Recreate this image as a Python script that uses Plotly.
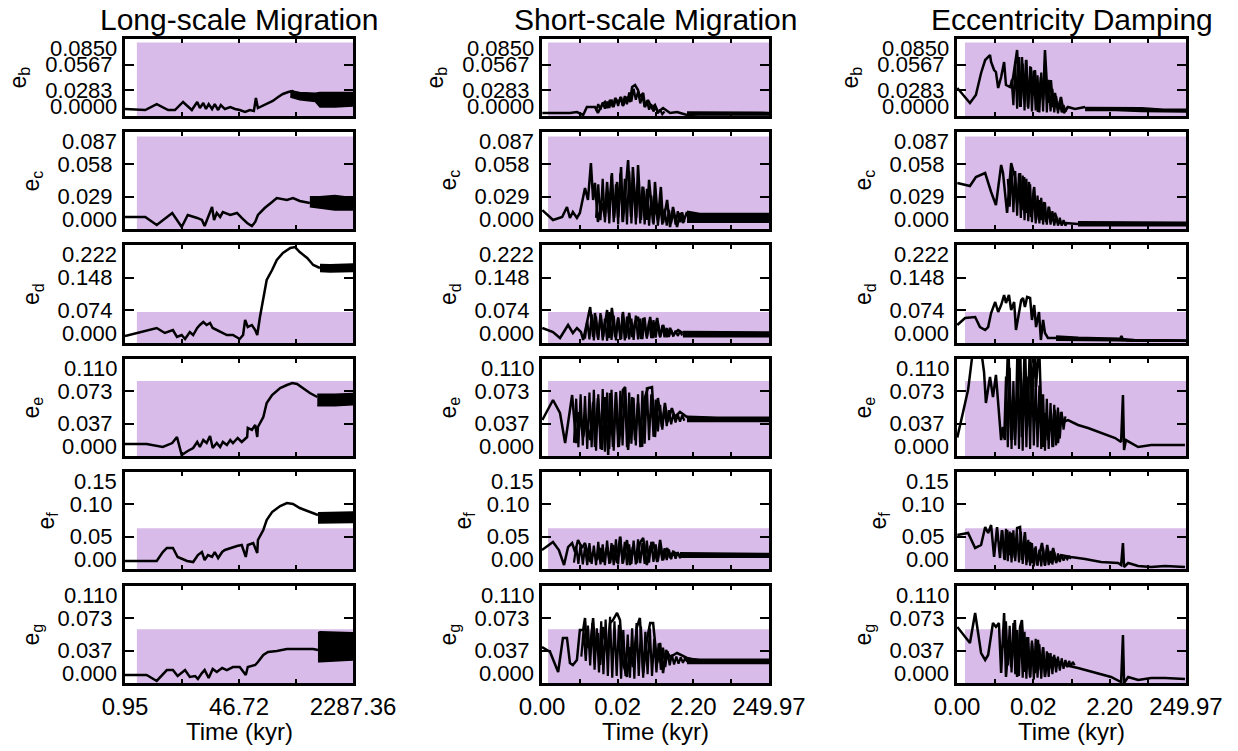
import numpy as np
import plotly.graph_objects as go

# ---------------------------------------------------------------- data
columns = ["Long-scale Migration", "Short-scale Migration", "Eccentricity Damping"]
planets = ["b", "c", "d", "e", "f", "g"]

# time axes: log10(kyr) range ends and tick labels
time_log_min = [-0.0203, -3.7686, -3.7686]
time_log_max = [3.3593, 2.3979, 2.3979]
time_ticktext_long = ["0.95", "46.72", "2287.36"]
time_ticktext_short = ["0.00", "0.02", "2.20", "249.97"]

# eccentricity axes
ecc_axis_max = [0.085, 0.087, 0.222, 0.110, 0.15, 0.110]
ecc_ticktext_b = ["0.0000", "0.0283", "0.0567", "0.0850"]
ecc_ticktext_c = ["0.000", "0.029", "0.058", "0.087"]
ecc_ticktext_d = ["0.000", "0.074", "0.148", "0.222"]
ecc_ticktext_e = ["0.000", "0.037", "0.073", "0.110"]
ecc_ticktext_f = ["0.00", "0.05", "0.10", "0.15"]
ecc_ticktext_g = ["0.000", "0.037", "0.073", "0.110"]

# observed upper limits (shaded) and log10(kyr) where shading starts
ecc_upper_limit = [0.081, 0.083, 0.070, 0.085, 0.063, 0.061]
limit_start_log = [0.156, -3.604, -3.552]

# ---- Long-scale migration (time as log10 kyr)
long_b_t = [-0.02, 0.28, 0.45, 0.62, 0.72, 0.84, 0.97, 1.05, 1.09, 1.14, 1.18, 1.22, 1.27, 1.31, 1.36, 1.40, 1.46,
            1.54, 1.61, 1.68, 1.76, 1.83, 1.89, 1.92, 1.95, 2.01, 2.10, 2.17, 2.25, 2.32, 2.40, 2.46, 2.51]
long_b_e = [0.0077, 0.0066, 0.0132, 0.0066, 0.0066, 0.0155, 0.0066, 0.0155, 0.0088, 0.0144, 0.0077, 0.0132, 0.0077,
            0.0132, 0.0066, 0.0121, 0.0077, 0.0099, 0.0077, 0.0066, 0.0044, 0.0066, 0.0055, 0.0199, 0.0088, 0.011,
            0.0144, 0.0166, 0.021, 0.0243, 0.0265, 0.0276, 0.0254]
long_b_band_t = [2.43, 2.57, 2.80, 2.87, 3.09, 3.36]
long_b_band_lo = [0.021, 0.018, 0.016, 0.010, 0.010, 0.011]
long_b_band_hi = [0.028, 0.026, 0.025, 0.026, 0.026, 0.026]

long_c_t = [-0.02, 0.28, 0.45, 0.68, 0.82, 0.91, 1.05, 1.12, 1.16, 1.21, 1.27, 1.30, 1.34, 1.39, 1.43, 1.54, 1.64,
            1.71, 1.79, 1.86, 1.91, 1.95, 2.05, 2.16, 2.23, 2.38, 2.47, 2.57, 2.72]
long_c_e = [0.0108, 0.0108, 0.0036, 0.0144, 0.0018, 0.0126, 0.0099, 0.0081, 0.0027, 0.0108, 0.0197, 0.0081, 0.0144,
            0.0108, 0.0152, 0.0126, 0.0144, 0.0099, 0.0054, 0.0027, 0.0063, 0.0126, 0.0188, 0.0242, 0.0278, 0.026,
            0.0278, 0.0251, 0.0233]
long_c_band_t = [2.72, 2.87, 3.09, 3.36]
long_c_band_lo = [0.020, 0.019, 0.017, 0.017]
long_c_band_hi = [0.029, 0.029, 0.030, 0.028]

long_d_t = [-0.02, 0.45, 0.57, 0.69, 0.75, 0.82, 0.87, 0.94, 0.99, 1.05, 1.09, 1.14, 1.19, 1.24, 1.28, 1.39, 1.49,
            1.58, 1.68, 1.73, 1.76, 1.80, 1.86, 1.91, 1.94, 1.98, 2.03, 2.08, 2.16, 2.23, 2.32, 2.43, 2.50, 2.57,
            2.68, 2.77, 2.87]
long_d_e = [0.0159, 0.034, 0.0227, 0.0294, 0.0136, 0.0181, 0.0091, 0.0249, 0.0181, 0.034, 0.0408, 0.0476, 0.0408,
            0.0453, 0.034, 0.0249, 0.0181, 0.0181, 0.0091, 0.0181, 0.0521, 0.0362, 0.0408, 0.0294, 0.0181, 0.0589,
            0.104, 0.1427, 0.1653, 0.188, 0.2039, 0.2152, 0.2174, 0.2061, 0.1925, 0.1767, 0.1699]
long_d_band_t = [2.87, 3.02, 3.36]
long_d_band_lo = [0.162, 0.161, 0.162]
long_d_band_hi = [0.178, 0.177, 0.179]

long_e_t = [-0.02, 0.30, 0.54, 0.68, 0.75, 0.82, 0.91, 0.99, 1.05, 1.09, 1.14, 1.19, 1.24, 1.28, 1.34, 1.39, 1.43,
            1.49, 1.54, 1.58, 1.65, 1.71, 1.79, 1.80, 1.86, 1.91, 1.94, 1.95, 2.03, 2.08, 2.16, 2.28, 2.38, 2.46,
            2.53, 2.62, 2.72, 2.83]
long_e_e = [0.0136, 0.0136, 0.0102, 0.0147, 0.0215, 0.0011, 0.0057, 0.0091, 0.0159, 0.0102, 0.0181, 0.0147, 0.0227,
            0.0091, 0.0147, 0.0102, 0.0159, 0.0125, 0.0181, 0.0147, 0.0204, 0.0159, 0.0215, 0.0318, 0.0295, 0.0352,
            0.0215, 0.0329, 0.0442, 0.0601, 0.0692, 0.0771, 0.0805, 0.0828, 0.0817, 0.0771, 0.0714, 0.0669]
long_e_band_t = [2.83, 3.09, 3.36]
long_e_band_lo = [0.057, 0.057, 0.058]
long_e_band_hi = [0.070, 0.070, 0.071]

long_f_t = [-0.02, 0.45, 0.54, 0.60, 0.69, 0.76, 0.90, 0.99, 1.06, 1.12, 1.16, 1.21, 1.27, 1.31, 1.36, 1.42, 1.46,
            1.54, 1.64, 1.71, 1.77, 1.80, 1.88, 1.94, 1.95, 2.03, 2.08, 2.16, 2.28, 2.38, 2.47, 2.57, 2.72, 2.84]
long_f_e = [0.0124, 0.0124, 0.0263, 0.0325, 0.0325, 0.0186, 0.0124, 0.0108, 0.0216, 0.0263, 0.0139, 0.0216, 0.0186,
            0.0263, 0.017, 0.0263, 0.0294, 0.0325, 0.0356, 0.0371, 0.0186, 0.0371, 0.0402, 0.0247, 0.0448, 0.0603,
            0.0758, 0.0881, 0.0974, 0.102, 0.1005, 0.0943, 0.0881, 0.0835]
long_f_band_t = [2.84, 3.09, 3.36]
long_f_band_lo = [0.071, 0.071, 0.072]
long_f_band_hi = [0.087, 0.087, 0.088]

long_g_t = [-0.02, 0.30, 0.45, 0.60, 0.69, 0.76, 0.87, 0.94, 1.02, 1.06, 1.12, 1.16, 1.22, 1.28, 1.34, 1.42, 1.49,
            1.58, 1.68, 1.77, 1.80, 1.91, 1.95, 2.03, 2.10, 2.23, 2.38, 2.57, 2.77, 2.84]
long_g_e = [0.0091, 0.0091, 0.0023, 0.0147, 0.0147, 0.0079, 0.0147, 0.0068, 0.0079, 0.0045, 0.0113, 0.0147, 0.0057,
            0.0159, 0.0125, 0.017, 0.0147, 0.0181, 0.0181, 0.0091, 0.0181, 0.0204, 0.0238, 0.0318, 0.0352, 0.0363,
            0.0386, 0.0386, 0.0386, 0.0374]
long_g_band_t = [2.84, 2.87, 3.36]
long_g_band_lo = [0.024, 0.024, 0.026]
long_g_band_hi = [0.057, 0.058, 0.057]

# ---- Short-scale migration
short_b_t = [-3.76, -3.01, -2.82, -2.65, -2.55, -2.33, -2.25, -2.14, -2.06, -2.00, -1.92, -1.84, -1.78, -1.70, -1.62,
             -1.57, -1.46, -1.38, -1.32, -1.24, -1.16, -1.11, -1.02, -0.97, -0.89, -0.78, -0.70, -0.62, -0.48, -0.29,
             -0.10, 0.17, 0.52, 1.07, 1.61, 2.40]
short_b_e = [0.0033, 0.0033, 0.0044, 0.0011, 0.0099, 0.0099, 0.0033, 0.0121, 0.0155, 0.0088, 0.0177, 0.0099, 0.0199,
             0.0144, 0.021, 0.011, 0.021, 0.0155, 0.032, 0.0342, 0.0287, 0.021, 0.0254, 0.0099, 0.0177, 0.0088,
             0.0121, 0.0044, 0.0088, 0.0033, 0.0044, 0.0011, 0.0022, 0.0022, 0.0022, 0.0022]
short_b_band_t = [0.17, 1.00, 2.40]
short_b_band_lo = [0.001, 0.001, 0.001]
short_b_band_hi = [0.0045, 0.004, 0.004]
short_b_fine_t = [-2.30, -2.24, -2.18, -2.12, -2.06, -2.00, -1.94, -1.88, -1.82, -1.76, -1.70, -1.64, -1.58, -1.52,
                  -1.46, -1.40, -1.34, -1.28, -1.22, -1.16, -1.10, -1.04, -0.98, -0.92, -0.86, -0.80, -0.74, -0.68,
                  -0.62, -0.56, -0.50, -0.44]
short_b_fine_e = [0.006, 0.013, 0.007, 0.015, 0.008, 0.016, 0.009, 0.018, 0.010, 0.019, 0.011, 0.021, 0.012, 0.022,
                  0.013, 0.026, 0.016, 0.030, 0.018, 0.027, 0.014, 0.022, 0.010, 0.017, 0.007, 0.013, 0.005, 0.010,
                  0.003, 0.007, 0.002, 0.005]

short_c_t = [-3.76, -3.47, -3.22, -3.09, -3.01, -2.93, -2.82, -2.74, -2.65, -2.60, -2.52, -2.44, -2.38, -2.33, -2.25,
             -2.14, -2.06, -2.00, -1.95, -1.87, -1.81, -1.73, -1.70, -1.62, -1.57, -1.49, -1.43, -1.35, -1.30, -1.21,
             -1.16, -1.08, -1.02, -0.92, -0.86, -0.75, -0.70, -0.62, -0.54, -0.48, -0.37, -0.29, -0.21, -0.10, -0.02,
             0.06, 0.17]
short_c_e = [0.017, 0.0081, 0.0108, 0.0197, 0.0099, 0.0152, 0.0099, 0.0144, 0.0287, 0.0368, 0.026, 0.0592, 0.026,
             0.0413, 0.0063, 0.0233, 0.0108, 0.0422, 0.0144, 0.0502, 0.0099, 0.0422, 0.0108, 0.0556, 0.0063, 0.0377,
             0.0619, 0.0108, 0.0556, 0.0099, 0.0574, 0.0081, 0.0377, 0.0081, 0.044, 0.0054, 0.0422, 0.0081, 0.0377,
             0.0054, 0.026, 0.0018, 0.0197, 0.0018, 0.0144, 0.0054, 0.0152]
short_c_band_t = [0.17, 0.52, 1.34, 2.40]
short_c_band_lo = [0.006, 0.006, 0.006, 0.006]
short_c_band_hi = [0.016, 0.014, 0.014, 0.014]
short_c_fine_t = [-2.30, -2.24, -2.18, -2.12, -2.06, -2.00, -1.94, -1.88, -1.82, -1.76, -1.70, -1.64, -1.58, -1.52,
                  -1.46, -1.40, -1.34, -1.28, -1.22, -1.16, -1.10, -1.04, -0.98, -0.92, -0.86, -0.80, -0.74, -0.68,
                  -0.62, -0.56, -0.50, -0.44, -0.38, -0.32, -0.26, -0.20, -0.14, -0.08, -0.02, 0.04, 0.10]
short_c_fine_e = [0.010, 0.040, 0.008, 0.045, 0.006, 0.035, 0.005, 0.048, 0.006, 0.040, 0.004, 0.050, 0.006, 0.045,
                  0.004, 0.052, 0.005, 0.046, 0.004, 0.042, 0.005, 0.038, 0.004, 0.036, 0.003, 0.030, 0.004, 0.025,
                  0.003, 0.022, 0.004, 0.018, 0.003, 0.017, 0.005, 0.016, 0.004, 0.016, 0.006, 0.015, 0.006]

short_d_t = [-3.76, -3.47, -3.28, -3.06, -2.93, -2.82, -2.71, -2.65, -2.55, -2.46, -2.38, -2.33, -2.25, -2.17, -2.11,
             -2.00, -1.95, -1.87, -1.78, -1.70, -1.62, -1.57, -1.49, -1.40, -1.32, -1.24, -1.16, -1.08, -1.02, -0.92,
             -0.83, -0.75, -0.64, -0.56, -0.48, -0.37, -0.29, -0.21, -0.07, 0.06]
short_d_e = [0.034, 0.0249, 0.0113, 0.0408, 0.0227, 0.034, 0.0249, 0.0068, 0.0453, 0.0815, 0.0136, 0.068, 0.0113,
             0.0634, 0.0136, 0.0747, 0.0113, 0.0793, 0.0136, 0.0566, 0.0091, 0.0702, 0.0113, 0.068, 0.0136, 0.0476,
             0.0589, 0.0091, 0.0566, 0.0136, 0.0589, 0.0113, 0.0566, 0.0136, 0.0408, 0.0136, 0.034, 0.0181, 0.0294,
             0.0227]
short_d_band_t = [0.06, 0.52, 2.40]
short_d_band_lo = [0.014, 0.014, 0.014]
short_d_band_hi = [0.026, 0.025, 0.025]
short_d_fine_t = [-2.60, -2.54, -2.48, -2.42, -2.36, -2.30, -2.24, -2.18, -2.12, -2.06, -2.00, -1.94, -1.88, -1.82,
                  -1.76, -1.70, -1.64, -1.58, -1.52, -1.46, -1.40, -1.34, -1.28, -1.22, -1.16, -1.10, -1.04, -0.98,
                  -0.92, -0.86, -0.80, -0.74, -0.68, -0.62, -0.56, -0.50, -0.44, -0.38, -0.32, -0.26, -0.20, -0.14,
                  -0.08, -0.02, 0.04]
short_d_fine_e = [0.010, 0.050, 0.008, 0.065, 0.006, 0.060, 0.007, 0.068, 0.006, 0.055, 0.005, 0.070, 0.007, 0.062,
                  0.006, 0.058, 0.007, 0.066, 0.006, 0.060, 0.008, 0.055, 0.007, 0.062, 0.008, 0.055, 0.009, 0.058,
                  0.010, 0.050, 0.011, 0.052, 0.012, 0.045, 0.013, 0.040, 0.013, 0.034, 0.014, 0.030, 0.015, 0.028,
                  0.016, 0.026, 0.017]

short_e_t = [-3.76, -3.47, -3.28, -3.14, -2.95, -2.84, -2.76, -2.65, -2.57, -2.46, -2.38, -2.33, -2.25, -2.14, -2.06,
             -1.97, -1.92, -1.84, -1.76, -1.68, -1.57, -1.51, -1.43, -1.32, -1.24, -1.16, -1.05, -0.97, -0.89, -0.78,
             -0.70, -0.62, -0.51, -0.43, -0.35, -0.24, -0.16, -0.02, 0.17, 0.44, 0.80, 1.69, 2.40]
short_e_e = [0.0408, 0.0635, 0.0488, 0.0147, 0.0692, 0.0147, 0.0499, 0.0215, 0.0408, 0.0181, 0.0612, 0.0102, 0.0658,
             0.0068, 0.0669, 0.0011, 0.0714, 0.0102, 0.0726, 0.0102, 0.0748, 0.0782, 0.0068, 0.0669, 0.0181, 0.0601,
             0.0102, 0.0669, 0.0771, 0.0782, 0.0215, 0.0658, 0.0329, 0.0601, 0.0386, 0.0544, 0.0442, 0.0499, 0.0442,
             0.0431, 0.0408, 0.0408, 0.0408]
short_e_band_t = [0.17, 1.00, 2.40]
short_e_band_lo = [0.039, 0.039, 0.039]
short_e_band_hi = [0.045, 0.044, 0.044]
short_e_fine_t = [-2.90, -2.84, -2.78, -2.72, -2.66, -2.60, -2.54, -2.48, -2.42, -2.36, -2.30, -2.24, -2.18, -2.12,
                  -2.06, -2.00, -1.94, -1.88, -1.82, -1.76, -1.70, -1.64, -1.58, -1.52, -1.46, -1.40, -1.34, -1.28,
                  -1.22, -1.16, -1.10, -1.04, -0.98, -0.92, -0.86, -0.80, -0.74, -0.68, -0.62, -0.56, -0.50, -0.44,
                  -0.38, -0.32, -0.26, -0.20, -0.14, -0.08, -0.02, 0.04, 0.10]
short_e_fine_e = [0.015, 0.065, 0.010, 0.070, 0.012, 0.068, 0.008, 0.072, 0.010, 0.075, 0.006, 0.070, 0.008, 0.076,
                  0.005, 0.072, 0.008, 0.075, 0.006, 0.070, 0.010, 0.074, 0.012, 0.078, 0.010, 0.072, 0.014, 0.066,
                  0.012, 0.070, 0.010, 0.074, 0.014, 0.078, 0.018, 0.070, 0.022, 0.064, 0.028, 0.058, 0.030, 0.055,
                  0.034, 0.052, 0.036, 0.048, 0.038, 0.047, 0.039, 0.046, 0.040]

short_f_t = [-3.77, -3.47, -3.31, -3.17, -3.06, -2.95, -2.87, -2.79, -2.68, -2.60, -2.46, -2.38, -2.27, -2.19, -2.11,
             -2.00, -1.92, -1.84, -1.73, -1.65, -1.57, -1.46, -1.38, -1.30, -1.19, -1.11, -1.02, -0.92, -0.83, -0.75,
             -0.64, -0.56, -0.48, -0.37, -0.29, -0.21, -0.02]
short_f_e = [0.0294, 0.0417, 0.0294, 0.0062, 0.034, 0.0402, 0.0263, 0.0448, 0.0325, 0.0402, 0.0108, 0.0263, 0.0139,
             0.0325, 0.0108, 0.034, 0.0093, 0.0371, 0.0093, 0.0495, 0.0093, 0.0448, 0.0062, 0.034, 0.0093, 0.0402,
             0.0479, 0.0062, 0.034, 0.0417, 0.0108, 0.0448, 0.0139, 0.0325, 0.017, 0.0263, 0.0216]
short_f_band_t = [-0.02, 0.50, 2.40]
short_f_band_lo = [0.018, 0.018, 0.018]
short_f_band_hi = [0.025, 0.024, 0.024]
short_f_fine_t = [-2.90, -2.84, -2.78, -2.72, -2.66, -2.60, -2.54, -2.48, -2.42, -2.36, -2.30, -2.24, -2.18, -2.12,
                  -2.06, -2.00, -1.94, -1.88, -1.82, -1.76, -1.70, -1.64, -1.58, -1.52, -1.46, -1.40, -1.34, -1.28,
                  -1.22, -1.16, -1.10, -1.04, -0.98, -0.92, -0.86, -0.80, -0.74, -0.68, -0.62, -0.56, -0.50, -0.44,
                  -0.38, -0.32, -0.26, -0.20, -0.14, -0.08, -0.02, 0.04]
short_f_fine_e = [0.010, 0.035, 0.008, 0.038, 0.007, 0.034, 0.006, 0.040, 0.008, 0.036, 0.006, 0.042, 0.007, 0.038,
                  0.006, 0.044, 0.008, 0.040, 0.006, 0.046, 0.007, 0.050, 0.008, 0.042, 0.006, 0.038, 0.008, 0.044,
                  0.007, 0.046, 0.009, 0.040, 0.008, 0.044, 0.010, 0.042, 0.011, 0.038, 0.012, 0.035, 0.013, 0.032,
                  0.014, 0.030, 0.015, 0.028, 0.016, 0.026, 0.017, 0.024]

short_g_t = [-3.77, -3.55, -3.33, -3.20, -3.09, -3.01, -2.93, -2.82, -2.74, -2.65, -2.60, -2.55, -2.46, -2.38, -2.33,
             -2.25, -2.19, -2.11, -2.00, -1.92, -1.84, -1.73, -1.65, -1.57, -1.46, -1.38, -1.30, -1.19, -1.11, -1.02,
             -0.92, -0.83, -0.75, -0.64, -0.56, -0.48, -0.40, -0.29, -0.10, 0.17, 0.52]
short_g_e = [0.0408, 0.0352, 0.0125, 0.051, 0.051, 0.0227, 0.0204, 0.0261, 0.0601, 0.0601, 0.0737, 0.0408, 0.0408,
             0.0737, 0.0397, 0.0567, 0.0204, 0.0635, 0.034, 0.068, 0.0714, 0.0794, 0.0714, 0.0227, 0.0068, 0.0408,
             0.0181, 0.0635, 0.0737, 0.0113, 0.0488, 0.068, 0.068, 0.0227, 0.0454, 0.0113, 0.0374, 0.0295, 0.034,
             0.0284, 0.0249]
short_g_band_t = [0.17, 0.52, 1.50, 2.40]
short_g_band_lo = [0.022, 0.022, 0.022, 0.022]
short_g_band_hi = [0.028, 0.027, 0.027, 0.027]
short_g_fine_t = [-2.70, -2.64, -2.58, -2.52, -2.46, -2.40, -2.34, -2.28, -2.22, -2.16, -2.10, -2.04, -1.98, -1.92,
                  -1.86, -1.80, -1.74, -1.68, -1.62, -1.56, -1.50, -1.44, -1.38, -1.32, -1.26, -1.20, -1.14, -1.08,
                  -1.02, -0.96, -0.90, -0.84, -0.78, -0.72, -0.66, -0.60, -0.54, -0.48, -0.42, -0.36, -0.30, -0.24,
                  -0.18, -0.12, -0.06, 0.00, 0.06, 0.12, 0.18]
short_g_fine_e = [0.030, 0.060, 0.025, 0.065, 0.020, 0.068, 0.015, 0.062, 0.012, 0.070, 0.010, 0.072, 0.008, 0.075,
                  0.006, 0.070, 0.008, 0.066, 0.005, 0.060, 0.008, 0.055, 0.006, 0.062, 0.005, 0.068, 0.008, 0.064,
                  0.006, 0.058, 0.010, 0.062, 0.008, 0.050, 0.012, 0.045, 0.015, 0.040, 0.018, 0.036, 0.020, 0.032,
                  0.021, 0.030, 0.022, 0.029, 0.023, 0.028, 0.024]

# ---- Eccentricity damping
damp_b_t = [-3.76, -3.42, -3.26, -3.12, -3.01, -2.93, -2.88, -2.85, -2.77, -2.72, -2.66, -2.58, -2.50, -2.45, -2.34,
            -2.26, -2.21, -2.15, -2.07, -2.02, -1.96, -1.91, -1.86, -1.78, -1.72, -1.67, -1.59, -1.51, -1.45, -1.40,
            -1.32, -1.24, -1.18, -1.13, -1.05, -0.97, -0.89, -0.78, -0.59, -0.32]
damp_b_e = [0.0309, 0.0144, 0.0232, 0.0475, 0.0618, 0.0651, 0.0673, 0.0596, 0.0508, 0.0486, 0.0309, 0.0431, 0.0596,
            0.0342, 0.032, 0.042, 0.0585, 0.0729, 0.0099, 0.0651, 0.0177, 0.0618, 0.0099, 0.0541, 0.0254, 0.0508,
            0.0044, 0.0431, 0.0177, 0.0729, 0.0144, 0.0397, 0.0099, 0.0254, 0.0066, 0.021, 0.0033, 0.0099, 0.0077,
            0.0099]
damp_b_band_t = [-0.32, 0.50, 1.20, 1.80, 2.40]
damp_b_band_lo = [0.006, 0.006, 0.005, 0.0045, 0.0045]
damp_b_band_hi = [0.0095, 0.0095, 0.009, 0.0075, 0.0075]
damp_b_fine_t = [-2.30, -2.25, -2.20, -2.15, -2.10, -2.05, -2.00, -1.95, -1.90, -1.85, -1.80, -1.75, -1.70, -1.65,
                 -1.60, -1.55, -1.50, -1.45, -1.40, -1.35, -1.30, -1.25, -1.20, -1.15, -1.10, -1.05, -1.00, -0.95,
                 -0.90, -0.85, -0.80]
damp_b_fine_e = [0.040, 0.012, 0.060, 0.008, 0.065, 0.010, 0.058, 0.006, 0.062, 0.008, 0.055, 0.005, 0.050, 0.006,
                 0.045, 0.004, 0.048, 0.005, 0.060, 0.004, 0.040, 0.005, 0.030, 0.004, 0.022, 0.003, 0.016, 0.004,
                 0.012, 0.005, 0.010]

damp_c_t = [-3.76, -3.42, -3.26, -3.01, -2.85, -2.72, -2.58, -2.53, -2.42, -2.31, -2.26, -2.21, -2.15, -2.07, -2.02,
            -1.96, -1.91, -1.83, -1.78, -1.69, -1.64, -1.56, -1.51, -1.43, -1.37, -1.29, -1.24, -1.13, -1.05, -0.86,
            -0.51]
damp_c_e = [0.0413, 0.0386, 0.0466, 0.0502, 0.0332, 0.0215, 0.0574, 0.0502, 0.0144, 0.0592, 0.0529, 0.0466, 0.0233,
            0.0502, 0.017, 0.0466, 0.0144, 0.0422, 0.0108, 0.0377, 0.0081, 0.026, 0.0081, 0.0242, 0.0063, 0.0197,
            0.0063, 0.0144, 0.0054, 0.0054, 0.0045]
damp_c_band_t = [-0.51, 0.50, 1.50, 2.40]
damp_c_band_lo = [0.003, 0.003, 0.003, 0.003]
damp_c_band_hi = [0.0065, 0.006, 0.006, 0.006]
damp_c_fine_t = [-2.40, -2.35, -2.30, -2.25, -2.20, -2.15, -2.10, -2.05, -2.00, -1.95, -1.90, -1.85, -1.80, -1.75,
                 -1.70, -1.65, -1.60, -1.55, -1.50, -1.45, -1.40, -1.35, -1.30, -1.25, -1.20, -1.15, -1.10, -1.05,
                 -1.00, -0.95, -0.90, -0.85, -0.80]
damp_c_fine_e = [0.045, 0.020, 0.055, 0.015, 0.052, 0.012, 0.050, 0.010, 0.048, 0.008, 0.045, 0.007, 0.040, 0.006,
                 0.036, 0.005, 0.030, 0.005, 0.028, 0.004, 0.024, 0.004, 0.020, 0.004, 0.016, 0.003, 0.012, 0.003,
                 0.010, 0.003, 0.008, 0.003, 0.006]

damp_d_t = [-3.76, -3.55, -3.28, -3.15, -3.01, -2.93, -2.85, -2.74, -2.66, -2.58, -2.50, -2.45, -2.37, -2.31, -2.23,
            -2.18, -2.10, -2.04, -1.99, -1.94, -1.88, -1.80, -1.75, -1.69, -1.64, -1.56, -1.51, -1.45, -1.40, -1.32,
            -1.13, -0.86, -0.59, -0.20, 0.35, 0.62, 0.66, 0.70, 0.85, 1.43, 2.40]
damp_d_e = [0.0408, 0.0566, 0.0589, 0.0362, 0.0294, 0.0362, 0.068, 0.0929, 0.0702, 0.0861, 0.1087, 0.0906, 0.1087,
            0.0747, 0.0929, 0.0294, 0.068, 0.0974, 0.1019, 0.0815, 0.1042, 0.1019, 0.0521, 0.0861, 0.0362, 0.0702,
            0.0068, 0.0521, 0.0227, 0.0113, 0.0113, 0.0113, 0.010, 0.009, 0.008, 0.009, 0.016, 0.008, 0.006, 0.005,
            0.005]
damp_d_band_t = [-1.10, -0.50, 0.50, 1.00, 2.40]
damp_d_band_lo = [0.006, 0.006, 0.005, 0.004, 0.004]
damp_d_band_hi = [0.016, 0.013, 0.011, 0.008, 0.007]
damp_d_fine_t = []
damp_d_fine_e = []

damp_e_t = [-3.76, -3.47, -3.31, -3.15, -3.04, -2.99, -2.88, -2.80, -2.72, -2.58, -2.53, -2.48, -2.39, -2.31, -2.26,
            -2.21, -2.13, -2.07, -2.02, -1.94, -1.88, -1.80, -1.75, -1.69, -1.64, -1.56, -1.51, -1.45, -1.40, -1.32,
            -1.24, -1.18, -1.13, -1.05, -0.97, -0.91, -0.78, -0.51, -0.24, 0.11, 0.49, 0.65, 0.70, 0.73, 0.78, 1.11,
            1.46, 1.83, 2.37]
damp_e_e = [0.021, 0.075, 0.13, 0.13, 0.095, 0.0601, 0.0896, 0.0669, 0.0919, 0.0181, 0.0329, 0.0181, 0.13, 0.0181,
            0.0635, 0.0181, 0.0748, 0.13, 0.0215, 0.13, 0.0329, 0.13, 0.0488, 0.13, 0.0782, 0.13, 0.0635, 0.0102,
            0.0488, 0.0181, 0.0488, 0.0102, 0.0522, 0.0147, 0.0499, 0.0386, 0.0408, 0.0352, 0.0318, 0.0261, 0.0204,
            0.0159, 0.069, 0.0068, 0.0181, 0.0102, 0.0125, 0.0125, 0.0125]
damp_e_band_t = []
damp_e_band_lo = []
damp_e_band_hi = []
damp_e_fine_t = [-2.50, -2.45, -2.40, -2.35, -2.30, -2.25, -2.20, -2.15, -2.10, -2.05, -2.00, -1.95, -1.90, -1.85,
                 -1.80, -1.75, -1.70, -1.65, -1.60, -1.55, -1.50, -1.45, -1.40, -1.35, -1.30, -1.25, -1.20, -1.15,
                 -1.10, -1.05, -1.00, -0.95, -0.90, -0.85]
damp_e_fine_e = [0.020, 0.090, 0.010, 0.100, 0.008, 0.085, 0.012, 0.110, 0.008, 0.095, 0.006, 0.105, 0.010, 0.090,
                 0.008, 0.100, 0.012, 0.085, 0.010, 0.080, 0.008, 0.070, 0.006, 0.065, 0.008, 0.060, 0.010, 0.058,
                 0.012, 0.055, 0.020, 0.050, 0.030, 0.045]

damp_f_t = [-3.76, -3.47, -3.28, -3.12, -3.01, -2.93, -2.85, -2.77, -2.69, -2.61, -2.56, -2.48, -2.42, -2.34, -2.29,
            -2.21, -2.15, -2.07, -2.02, -1.94, -1.88, -1.80, -1.75, -1.67, -1.61, -1.53, -1.48, -1.40, -1.34, -1.26,
            -1.18, -1.10, -0.97, -0.70, -0.32, 0.11, 0.57, 0.65, 0.70, 0.73, 0.84, 1.11, 1.46, 1.83, 2.37]
damp_f_e = [0.0526, 0.0557, 0.0325, 0.0371, 0.0649, 0.0557, 0.068, 0.0186, 0.0649, 0.017, 0.0603, 0.0139, 0.0603,
            0.0216, 0.0557, 0.017, 0.0634, 0.0649, 0.0139, 0.0572, 0.0108, 0.0417, 0.0093, 0.0325, 0.0062, 0.0247,
            0.0402, 0.0062, 0.0371, 0.0093, 0.0325, 0.0108, 0.0216, 0.0186, 0.0155, 0.0108, 0.0093, 0.0062, 0.0402,
            0.0031, 0.0093, 0.0046, 0.0031, 0.0046, 0.0031]
damp_f_band_t = []
damp_f_band_lo = []
damp_f_band_hi = []
damp_f_fine_t = [-2.60, -2.55, -2.50, -2.45, -2.40, -2.35, -2.30, -2.25, -2.20, -2.15, -2.10, -2.05, -2.00, -1.95,
                 -1.90, -1.85, -1.80, -1.75, -1.70, -1.65, -1.60, -1.55, -1.50, -1.45, -1.40, -1.35, -1.30, -1.25,
                 -1.20, -1.15, -1.10, -1.05, -1.00, -0.95, -0.90, -0.85, -0.80, -0.75, -0.70]
damp_f_fine_e = [0.030, 0.060, 0.015, 0.062, 0.012, 0.058, 0.010, 0.060, 0.012, 0.055, 0.010, 0.058, 0.008, 0.050,
                 0.006, 0.045, 0.005, 0.040, 0.004, 0.035, 0.005, 0.030, 0.004, 0.033, 0.005, 0.030, 0.006, 0.028,
                 0.007, 0.026, 0.009, 0.024, 0.011, 0.022, 0.013, 0.020, 0.015, 0.019, 0.016]

damp_g_t = [-3.76, -3.42, -3.28, -3.12, -3.01, -2.93, -2.80, -2.72, -2.64, -2.58, -2.50, -2.45, -2.37, -2.31, -2.21,
            -2.15, -2.07, -2.02, -1.94, -1.88, -1.80, -1.75, -1.67, -1.59, -1.51, -1.45, -1.40, -1.32, -1.24, -1.18,
            -1.05, -0.86, -0.51, -0.05, 0.38, 0.65, 0.70, 0.73, 0.84, 1.11, 1.46, 1.83, 2.37]
damp_g_e = [0.0635, 0.0454, 0.0794, 0.034, 0.0261, 0.0318, 0.068, 0.0635, 0.068, 0.0113, 0.0794, 0.0068, 0.0488,
            0.0181, 0.0714, 0.0068, 0.0635, 0.0714, 0.0125, 0.0522, 0.0068, 0.0454, 0.0113, 0.0488, 0.0147, 0.0408,
            0.0068, 0.034, 0.017, 0.0295, 0.0238, 0.0204, 0.017, 0.0113, 0.0068, 0.0011, 0.0544, 0.0, 0.0068, 0.0034,
            0.0057, 0.0057, 0.0045]
damp_g_band_t = []
damp_g_band_lo = []
damp_g_band_hi = []
damp_g_fine_t = [-2.50, -2.45, -2.40, -2.35, -2.30, -2.25, -2.20, -2.15, -2.10, -2.05, -2.00, -1.95, -1.90, -1.85,
                 -1.80, -1.75, -1.70, -1.65, -1.60, -1.55, -1.50, -1.45, -1.40, -1.35, -1.30, -1.25, -1.20, -1.15,
                 -1.10, -1.05, -1.00, -0.95, -0.90, -0.85, -0.80, -0.75, -0.70, -0.65, -0.60]
damp_g_fine_e = [0.040, 0.070, 0.020, 0.065, 0.012, 0.068, 0.010, 0.060, 0.008, 0.064, 0.006, 0.058, 0.005, 0.052,
                 0.006, 0.048, 0.004, 0.050, 0.006, 0.044, 0.005, 0.040, 0.008, 0.036, 0.007, 0.034, 0.010, 0.032,
                 0.012, 0.030, 0.014, 0.028, 0.016, 0.026, 0.018, 0.025, 0.019, 0.024, 0.020]

# ---------------------------------------------------------------- tables built from the data
ecc_ticktext = [ecc_ticktext_b, ecc_ticktext_c, ecc_ticktext_d, ecc_ticktext_e, ecc_ticktext_f, ecc_ticktext_g]
time_ticktext = [time_ticktext_long, time_ticktext_short, time_ticktext_short]
panels = [
    [(long_b_t, long_b_e, (long_b_band_t, long_b_band_lo, long_b_band_hi), ([], [])),
     (long_c_t, long_c_e, (long_c_band_t, long_c_band_lo, long_c_band_hi), ([], [])),
     (long_d_t, long_d_e, (long_d_band_t, long_d_band_lo, long_d_band_hi), ([], [])),
     (long_e_t, long_e_e, (long_e_band_t, long_e_band_lo, long_e_band_hi), ([], [])),
     (long_f_t, long_f_e, (long_f_band_t, long_f_band_lo, long_f_band_hi), ([], [])),
     (long_g_t, long_g_e, (long_g_band_t, long_g_band_lo, long_g_band_hi), ([], []))],
    [(short_b_t, short_b_e, (short_b_band_t, short_b_band_lo, short_b_band_hi), (short_b_fine_t, short_b_fine_e)),
     (short_c_t, short_c_e, (short_c_band_t, short_c_band_lo, short_c_band_hi), (short_c_fine_t, short_c_fine_e)),
     (short_d_t, short_d_e, (short_d_band_t, short_d_band_lo, short_d_band_hi), (short_d_fine_t, short_d_fine_e)),
     (short_e_t, short_e_e, (short_e_band_t, short_e_band_lo, short_e_band_hi), (short_e_fine_t, short_e_fine_e)),
     (short_f_t, short_f_e, (short_f_band_t, short_f_band_lo, short_f_band_hi), (short_f_fine_t, short_f_fine_e)),
     (short_g_t, short_g_e, (short_g_band_t, short_g_band_lo, short_g_band_hi), (short_g_fine_t, short_g_fine_e))],
    [(damp_b_t, damp_b_e, (damp_b_band_t, damp_b_band_lo, damp_b_band_hi), (damp_b_fine_t, damp_b_fine_e)),
     (damp_c_t, damp_c_e, (damp_c_band_t, damp_c_band_lo, damp_c_band_hi), (damp_c_fine_t, damp_c_fine_e)),
     (damp_d_t, damp_d_e, (damp_d_band_t, damp_d_band_lo, damp_d_band_hi), (damp_d_fine_t, damp_d_fine_e)),
     (damp_e_t, damp_e_e, (damp_e_band_t, damp_e_band_lo, damp_e_band_hi), (damp_e_fine_t, damp_e_fine_e)),
     (damp_f_t, damp_f_e, (damp_f_band_t, damp_f_band_lo, damp_f_band_hi), (damp_f_fine_t, damp_f_fine_e)),
     (damp_g_t, damp_g_e, (damp_g_band_t, damp_g_band_lo, damp_g_band_hi), (damp_g_fine_t, damp_g_fine_e))],
]

# ---------------------------------------------------------------- layout / style
W, H = 1238, 751
FONT = "Liberation Sans, Arial, Helvetica, sans-serif"
SHADE = "#d8bbe8"
col_px = [(125, 353), (542, 769), (957, 1186)]
row_px = [(39, 116), (132, 229), (245, 343), (359, 456), (472, 569), (586, 683)]
ytitle_offset = [106, 93, 93, 93, 78, 93]
TICK_FS = 22
XTICK_FS = 24

fig = go.Figure()
annotations = []
axes = {}

for c in range(3):
    lo_t, hi_t = time_log_min[c], time_log_max[c]
    labels = time_ticktext[c]
    nmaj = len(labels)
    all_ticks = 10 ** np.linspace(lo_t, hi_t, 2 * nmaj - 1)
    major_vals = list(all_ticks[0::2])
    minor_vals = list(all_ticks[1::2])
    for r in range(6):
        i = r * 3 + c + 1
        sfx = "" if i == 1 else str(i)
        xr, yr = "x" + sfx, "y" + sfx
        t, e, (bt, blo, bhi), (ft, fe) = panels[c][r]
        ymax = ecc_axis_max[r]
        lim = ecc_upper_limit[r]

        # shaded region of allowed eccentricities
        sx = 10 ** np.array([limit_start_log[c], hi_t, hi_t, limit_start_log[c], limit_start_log[c]])
        fig.add_trace(go.Scatter(x=sx, y=[0, 0, lim, lim, 0], mode="lines", fill="toself",
                                 fillcolor=SHADE, line=dict(width=0, color=SHADE),
                                 hoverinfo="skip", xaxis=xr, yaxis=yr))
        # dense oscillation envelope at late times
        if len(bt):
            bx = 10 ** np.array(list(bt) + list(bt)[::-1])
            by = list(blo) + list(bhi)[::-1]
            fig.add_trace(go.Scatter(x=bx, y=by, mode="lines", fill="toself", fillcolor="black",
                                     line=dict(width=1.5, color="black"), hoverinfo="skip",
                                     xaxis=xr, yaxis=yr))
        # densely sampled oscillating stretch
        if len(ft):
            fig.add_trace(go.Scatter(x=10 ** np.array(ft), y=fe, mode="lines",
                                     line=dict(color="black", width=2.2), xaxis=xr, yaxis=yr))
        # eccentricity track
        fig.add_trace(go.Scatter(x=10 ** np.array(t), y=e, mode="lines",
                                 line=dict(color="black", width=2.5), xaxis=xr, yaxis=yr))

        x0, x1 = col_px[c]
        y0, y1 = row_px[r]
        axes["xaxis" + sfx] = dict(
            domain=[x0 / W, x1 / W], anchor=yr, type="log", range=[lo_t, hi_t], automargin=False,
            tickmode="array", tickvals=major_vals, ticktext=labels,
            ticks="inside", ticklen=4, tickwidth=2, tickcolor="black",
            minor=dict(tickmode="array", tickvals=minor_vals, ticks="inside", ticklen=4,
                       tickwidth=2, tickcolor="black", showgrid=False),
            showline=True, linecolor="black", linewidth=3, mirror="ticks",
            showgrid=False, zeroline=False, showticklabels=(r == 5),
            tickfont=dict(family=FONT, size=XTICK_FS, color="black"), ticklabelstandoff=0,
        )
        ylabs = ecc_ticktext[r]
        axes["yaxis" + sfx] = dict(
            domain=[1 - y1 / H, 1 - y0 / H], anchor=xr, range=[0, ymax], automargin=False,
            tickmode="array", tickvals=[ymax / 3, 2 * ymax / 3], ticktext=[ylabs[1], ylabs[2]],
            ticks="inside", ticklen=9, tickwidth=2, tickcolor="black",
            showline=True, linecolor="black", linewidth=3, mirror="ticks",
            showgrid=False, zeroline=False,
            tickfont=dict(family=FONT, size=TICK_FS, color="black"), ticklabelstandoff=5,
        )
        # end labels pulled inside the frame
        annotations.append(dict(xref=xr + " domain", yref=yr, x=0, y=ymax, text=ylabs[3],
                                xanchor="right", yanchor="top", xshift=-6, yshift=5, showarrow=False,
                                font=dict(family=FONT, size=TICK_FS, color="black")))
        annotations.append(dict(xref=xr + " domain", yref=yr, x=0, y=0, text=ylabs[0],
                                xanchor="right", yanchor="bottom", xshift=-6, yshift=-5, showarrow=False,
                                font=dict(family=FONT, size=TICK_FS, color="black")))
        # y title
        annotations.append(dict(xref=xr + " domain", yref=yr + " domain", x=0, y=0.5,
                                xshift=-ytitle_offset[r], text="e<sub>%s</sub>" % planets[r],
                                textangle=-90, xanchor="center", yanchor="middle", showarrow=False,
                                font=dict(family=FONT, size=23, color="black")))
        if r == 0:
            annotations.append(dict(xref=xr + " domain", yref="paper", x=0.5, y=1 - 20 / H,
                                    text=columns[c], xanchor="center", yanchor="middle", showarrow=False,
                                    font=dict(family=FONT, size=30, color="black")))
        if r == 5:
            annotations.append(dict(xref=xr + " domain", yref="paper", x=0.5, y=1 - 731 / H,
                                    text="Time (kyr)", xanchor="center", yanchor="middle", showarrow=False,
                                    font=dict(family=FONT, size=24, color="black")))

fig.update_layout(
    template="none",
    width=W, height=H, margin=dict(l=0, r=0, t=0, b=0, pad=0),
    paper_bgcolor="white", plot_bgcolor="white", showlegend=False,
    font=dict(family=FONT, color="black"),
    annotations=annotations, **axes,
)

fig.write_html("out.html")
